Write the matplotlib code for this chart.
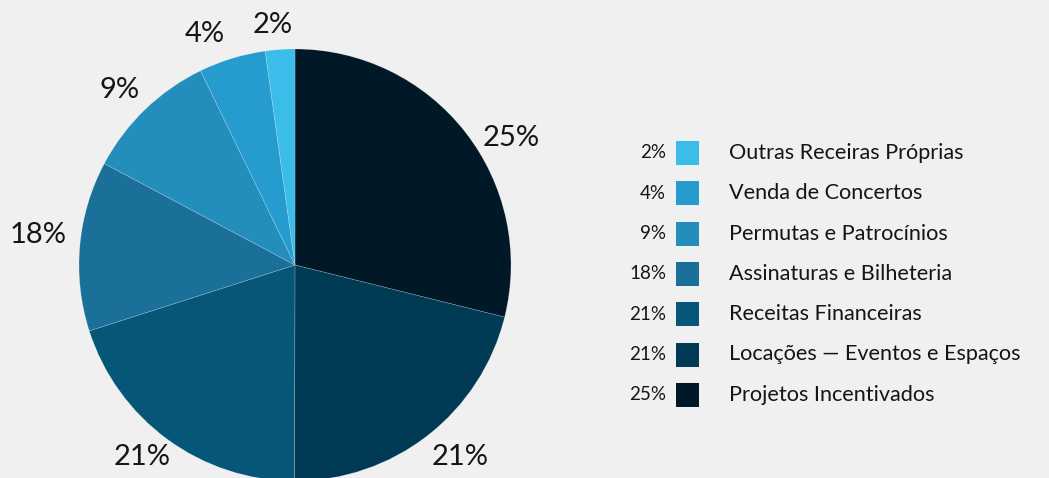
import matplotlib
matplotlib.use("Agg")
import matplotlib.pyplot as plt
from matplotlib.patches import Rectangle

# slices in drawing order (clockwise from 12 o'clock)
categories = [
    "Projetos Incentivados",
    "Locações — Eventos e Espaços",
    "Receitas Financeiras",
    "Assinaturas e Bilheteria",
    "Permutas e Patrocínios",
    "Venda de Concertos",
    "Outras Receiras Próprias",
]
shares = [28.85, 21.15, 20.0, 12.7, 10.0, 5.0, 2.2]
pct_labels = ["25%", "21%", "21%", "18%", "9%", "4%", "2%"]
colors = ["#011826", "#013A55", "#065677", "#1A7099", "#238DBC", "#269CCE", "#3ABDE8"]

# where each percentage sits, in pie-radius units from the centre
label_xy = [(1.0, 0.59), (0.766, -0.889), (-0.706, -0.889), (-1.19, 0.139),
            (-0.8125, 0.8125), (-0.417, 1.069), (-0.104, 1.109)]

BG = "#F0F0F0"
FONT = "Lato"
INK = "#151515"

W, H = 1049, 478
fig = plt.figure(figsize=(W / 100, H / 100), dpi=100, facecolor=BG)

# pie: center (295, 265) px, radius 216 px
cx, cy, r = 295, 265, 216
ax = fig.add_axes([(cx - r) / W, (H - cy - r) / H, 2 * r / W, 2 * r / H])
ax.set_facecolor(BG)
wedges, texts = ax.pie(
    shares,
    colors=colors,
    labels=pct_labels,
    startangle=90,
    counterclock=False,
    wedgeprops=dict(edgecolor=(1, 1, 1, 0.25), linewidth=0.5),
    textprops=dict(fontsize=21, family=FONT, color=INK),
)
for t, xy in zip(texts, label_xy):
    t.set_position(xy)
    t.set_horizontalalignment("center")
    t.set_verticalalignment("center")
ax.set_xlim(-1, 1)
ax.set_ylim(-1, 1)
ax.set_aspect("equal")
ax.axis("off")

# legend, drawn by hand (top row = smallest slice)
row0, step = 153, 40.3
for i, idx in enumerate(reversed(range(len(categories)))):
    y = 1 - (row0 + i * step) / H
    fig.text(666 / W, y, pct_labels[idx], ha="right", va="center",
             fontsize=13.5, family=FONT, color=INK)
    fig.patches.append(Rectangle((676 / W, y - 12 / H), 23 / W, 24 / H,
                                 transform=fig.transFigure, facecolor=colors[idx],
                                 edgecolor="none"))
    fig.text(729 / W, y, categories[idx], ha="left", va="center",
             fontsize=15.6, family=FONT, color=INK)

fig.savefig("out.png", dpi=100, facecolor=BG)
